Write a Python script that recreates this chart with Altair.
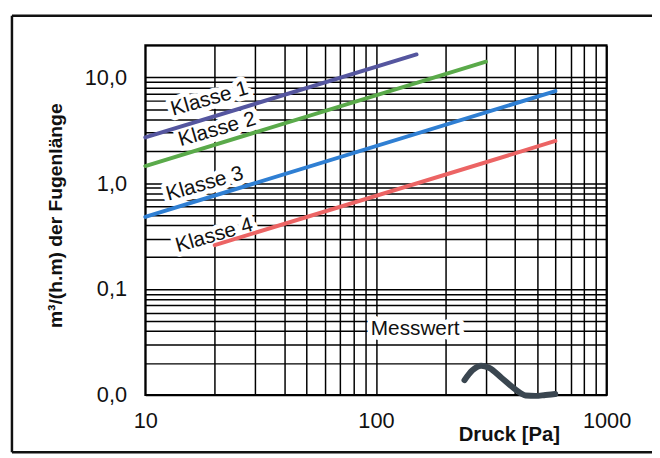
import altair as alt
import pandas as pd

# ---- data ----
klassen = ["Klasse 1", "Klasse 2", "Klasse 3", "Klasse 4"]
klasse_druck = [[10, 150], [10, 300], [10, 600], [20, 600]]
klasse_wert = [[2.7, 16.4], [1.45, 14.0], [0.48, 7.4], [0.26, 2.5]]
klasse_farben = ["#55569f", "#5aaa4a", "#2f7fd3", "#ec6464"]

mess_druck = [242, 262, 286, 309, 352, 404, 446, 492, 543, 599]
mess_wert = [0.0138, 0.0171, 0.0189, 0.0181, 0.0144, 0.0112, 0.0099, 0.0098, 0.0100, 0.0102]

label_text = ["Klasse 1", "Klasse 2", "Klasse 3", "Klasse 4", "Messwert"]
label_druck = [19, 20.5, 18.1, 19.9, 148]
label_wert = [6.2, 3.2, 0.98, 0.32, 0.042]
label_angle = [344, 344, 344, 344, 0]

x_grid = [10, 20, 30, 40, 50, 60, 70, 80, 90, 100, 200, 300, 400, 500, 600, 700, 800, 900, 1000]
y_grid = [0.01, 0.02, 0.03, 0.04, 0.05, 0.06, 0.07, 0.08, 0.09,
          0.1, 0.2, 0.3, 0.4, 0.5, 0.6, 0.7, 0.8, 0.9,
          1, 2, 3, 4, 5, 6, 7, 8, 9, 10, 20]

# ---- tables ----
rows = []
for k, ds, ws in zip(klassen, klasse_druck, klasse_wert):
    for d, w in zip(ds, ws):
        rows.append({"Klasse": k, "Druck": d, "Wert": w})
df_k = pd.DataFrame(rows)
df_m = pd.DataFrame({"Druck": mess_druck, "Wert": mess_wert, "i": list(range(len(mess_druck)))})
df_l = pd.DataFrame({"text": label_text, "Druck": label_druck, "Wert": label_wert, "angle": label_angle})
one = pd.DataFrame({"a": [0]})

FONT = "Liberation Sans"

xs = alt.Scale(type="log", domain=[10, 1000], nice=False)
ys = alt.Scale(type="log", domain=[0.01, 20], nice=False)

x_axis = alt.Axis(
    values=x_grid,
    labelExpr="datum.value == 10 ? '10' : datum.value == 100 ? '100' : datum.value == 1000 ? '1000' : ''",
    grid=True, gridColor="#000000", gridWidth=1.5, gridOpacity=1,
    ticks=False, tickSize=0, domain=False,
    labelFont=FONT, labelFontSize=22, labelColor="#111111", labelPadding=16,
    labelFlush=False, labelOverlap=False,
    title="Druck [Pa]", titleFont=FONT, titleFontSize=20.5, titleFontWeight="bold",
    titleColor="#111111", titleX=368, titleY=40, titleAlign="center", titleBaseline="middle",
)
y_axis = alt.Axis(
    values=y_grid,
    labelExpr="datum.value == 10 ? '10,0' : datum.value == 1 ? '1,0' : datum.value == 0.1 ? '0,1' : datum.value == 0.01 ? '0,0' : ''",
    grid=True, gridColor="#000000", gridWidth=1.5, gridOpacity=1,
    ticks=False, tickSize=0, domain=False,
    labelFont=FONT, labelFontSize=22, labelColor="#111111", labelPadding=19,
    labelFlush=False, labelOverlap=False,
    title="m³/(h.m) der Fugenlänge", titleFont=FONT, titleFontSize=19.5, titleFontWeight="bold",
    titleColor="#111111", titleAngle=270, titleX=-91, titleY=172, titleAlign="center",
    titleBaseline="middle",
)

base_x = alt.X("Druck:Q", scale=xs, axis=x_axis)
base_y = alt.Y("Wert:Q", scale=ys, axis=y_axis)

halo = alt.Chart(df_l).mark_text(
    font=FONT, fontSize=21, stroke="white", strokeWidth=10, fill="white",
    strokeJoin="round", align="center", baseline="middle"
).encode(
    x=base_x, y=base_y,
    text="text:N", angle=alt.Angle("angle:Q", scale=None)
)

lines = alt.Chart(df_k).mark_line(strokeWidth=4, strokeCap="round").encode(
    x=base_x, y=base_y,
    color=alt.Color("Klasse:N", scale=alt.Scale(domain=klassen, range=klasse_farben), legend=None),
    detail="Klasse:N",
)

mess = alt.Chart(df_m).mark_line(
    strokeWidth=6, strokeCap="round", strokeJoin="round", color="#3a4650",
    interpolate="monotone", clip=False
).encode(
    x=base_x, y=base_y, order="i:Q"
)

texts = alt.Chart(df_l).mark_text(
    font=FONT, fontSize=21, color="#111111", align="center", baseline="middle"
).encode(
    x=base_x, y=base_y,
    text="text:N", angle=alt.Angle("angle:Q", scale=None)
)

# outer frame of the figure (decoration)
frame_top = alt.Chart(one).mark_rule(color="#111111", strokeWidth=2.5).encode(
    x=alt.value(-135), x2=alt.value(515), y=alt.value(-30))
frame_left = alt.Chart(one).mark_rule(color="#111111", strokeWidth=2.5).encode(
    x=alt.value(-135), y=alt.value(-30), y2=alt.value(412))
frame_bottom = alt.Chart(one).mark_rule(color="#111111", strokeWidth=2.5).encode(
    x=alt.value(-135), x2=alt.value(515), y=alt.value(412))

chart = alt.layer(
    halo, lines, mess, texts, frame_top, frame_left, frame_bottom
).properties(
    width=467, height=354,
    autosize=alt.AutoSizeParams(type="none"),
    padding={"left": 139, "top": 35, "right": 46, "bottom": 60},
    background="white",
).configure_view(stroke="#000000", strokeWidth=2)

chart.save("out.html", embed_options={"renderer": "svg", "actions": False})
